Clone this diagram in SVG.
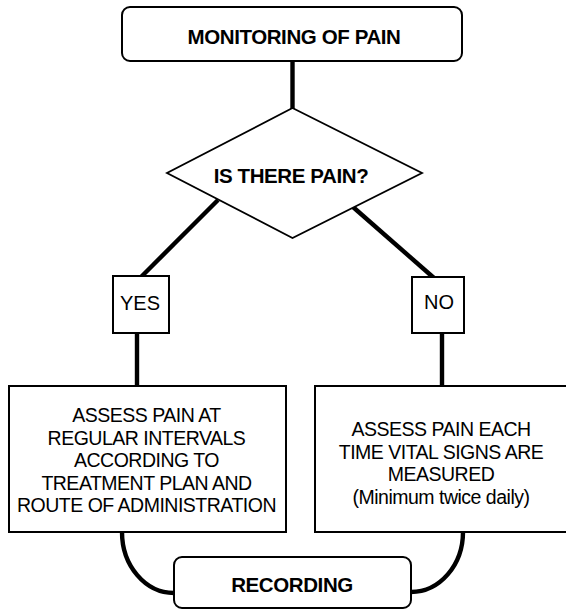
<svg xmlns="http://www.w3.org/2000/svg" width="566" height="610" viewBox="0 0 566 610">
<style>
.box{fill:#fff;stroke:#000;stroke-width:2}
.dia{fill:#fff;stroke:#000;stroke-width:1.8}
.con{fill:none;stroke:#000;stroke-width:4.4}
.b{font-family:"Liberation Sans",Arial,sans-serif;font-weight:bold;font-size:20.5px;text-anchor:middle;fill:#000;letter-spacing:-0.4px}
.t{font-family:"Liberation Sans",Arial,sans-serif;font-size:19.5px;text-anchor:middle;fill:#000;letter-spacing:-0.5px}
</style>
<rect width="566" height="610" fill="#fff"/>
<g id="connectors">
<line class="con" x1="292.5" y1="61" x2="292.5" y2="109"/>
<line class="con" x1="218" y1="200" x2="141" y2="277"/>
<line class="con" x1="353" y1="207" x2="434" y2="278"/>
<line class="con" x1="137" y1="333" x2="137" y2="386"/>
<line class="con" x1="442" y1="333" x2="442" y2="386"/>
<path class="con" d="M122,532 A52,61 0 0 0 174,593"/>
<path class="con" d="M463,532 A52,60 0 0 1 411,592"/>
</g>
<g id="monitoring">
<rect class="box" x="122" y="7" width="340" height="54" rx="8"/>
<text class="b" x="294" y="44">MONITORING OF PAIN</text>
</g>
<g id="decision">
<polygon class="dia" points="292.5,108 422,173 292.5,238 167,173"/>
<text class="b" x="291" y="183">IS THERE PAIN?</text>
</g>
<g id="yes">
<rect class="box" x="113" y="276" width="56" height="57"/>
<text class="t" x="140" y="310" style="font-size:20px;letter-spacing:0">YES</text>
</g>
<g id="no">
<rect class="box" x="412" y="277" width="52" height="56"/>
<text class="t" x="439" y="309" style="font-size:20px;letter-spacing:0">NO</text>
</g>
<g id="assess-regular">
<rect class="box" x="9" y="386" width="277" height="146"/>
<text class="t" x="146.5" y="422">ASSESS PAIN AT</text>
<text class="t" x="146.5" y="444.5">REGULAR INTERVALS</text>
<text class="t" x="146.5" y="467">ACCORDING TO</text>
<text class="t" x="146.5" y="489.5">TREATMENT PLAN AND</text>
<text class="t" x="146.5" y="512">ROUTE OF ADMINISTRATION</text>
</g>
<g id="assess-vital">
<rect class="box" x="315" y="386" width="253" height="146"/>
<text class="t" x="441" y="436">ASSESS PAIN EACH</text>
<text class="t" x="441" y="458.5">TIME VITAL SIGNS ARE</text>
<text class="t" x="441" y="481">MEASURED</text>
<text class="t" x="441" y="503.5">(Minimum twice daily)</text>
</g>
<g id="recording">
<rect class="box" x="174" y="557" width="237" height="51" rx="8"/>
<text class="b" x="292" y="592">RECORDING</text>
</g>
</svg>
